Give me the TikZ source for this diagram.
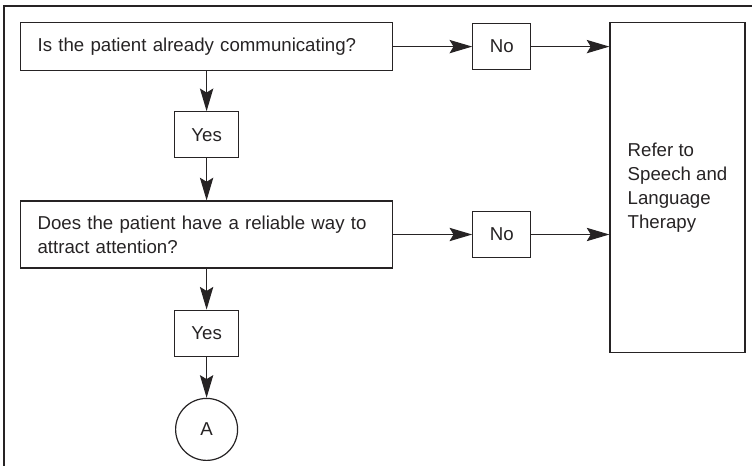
\documentclass[tikz,border=0pt]{standalone}
\usepackage{fontspec}
\setmainfont{Liberation Sans}
\usetikzlibrary{arrows.meta,positioning,calc}

\definecolor{inkgray}{HTML}{262324}

\begin{document}
\begin{tikzpicture}[
        x=0.75pt, y=-0.75pt,
        font=\fontsize{14pt}{18pt}\selectfont,
        every node/.style={text=inkgray},
        question/.style={rectangle, draw=inkgray, line width=0.9pt, minimum width=279pt, text width=253.5pt, inner xsep=12.75pt, align=left},
        answer/.style={rectangle, draw=inkgray, line width=0.9pt, minimum height=34.5pt, inner xsep=0pt, align=center},
        referbox/.style={rectangle, draw=inkgray, line width=0.9pt, minimum height=247.5pt, minimum width=101.25pt, align=left},
        connector/.style={circle, draw=inkgray, line width=0.9pt, minimum size=46.5pt, inner sep=0pt},
        line/.style={draw=inkgray, line width=0.9pt, -{Stealth[length=17pt, width=10pt, inset=3pt]}}
    ]
    \useasboundingbox (0,0) rectangle (752,466);

    % Outer frame (top and left edges only)
    \coordinate (frame) at (4,6);
    \draw [inkgray, line width=0.9pt] (frame -| 752,0) -- (frame) -- (frame |- 0,466);

    % Questions and answers down the left
    \node [question, minimum height=36pt, anchor=north west] (q1) at (20,22) {Is the patient already communicating?};
    \node [answer, minimum width=48pt, below=30pt of q1] (yes1) {Yes};
    \node [question, minimum height=50.25pt, below=31.5pt of yes1] (q2) {Does the patient have a reliable way to\\attract attention?};
    \node [answer, minimum width=48pt, below=30.75pt of q2] (yes2) {Yes};
    \node [connector, below=30.75pt of yes2] (a) {A};

    % No branches
    \node [answer, minimum width=43.5pt, right=59.25pt of q1.east |- q1.center] (no1) {No};
    \node [answer, minimum width=43.5pt, anchor=west] (no2) at ($(q2.east)+(59.25pt,0)$) {No};

    % Referral box
    \node [referbox, anchor=north west] (refer) at ($(no1.east |- q1.north)+(78,0)$) {Refer to\\Speech and\\Language\\Therapy};

    % Connections
    \path [line] (q1) -- (yes1);
    \path [line] (yes1) -- (q2);
    \path [line] (q2) -- (yes2);
    \path [line] (yes2) -- (a);
    \path [line] (q1) -- (no1);
    \path [line] (q2) -- (no2);
    \path [line] (no1) -- (no1 -| refer.west);
    \path [line] (no2) -- (no2 -| refer.west);

\end{tikzpicture}
\end{document}
